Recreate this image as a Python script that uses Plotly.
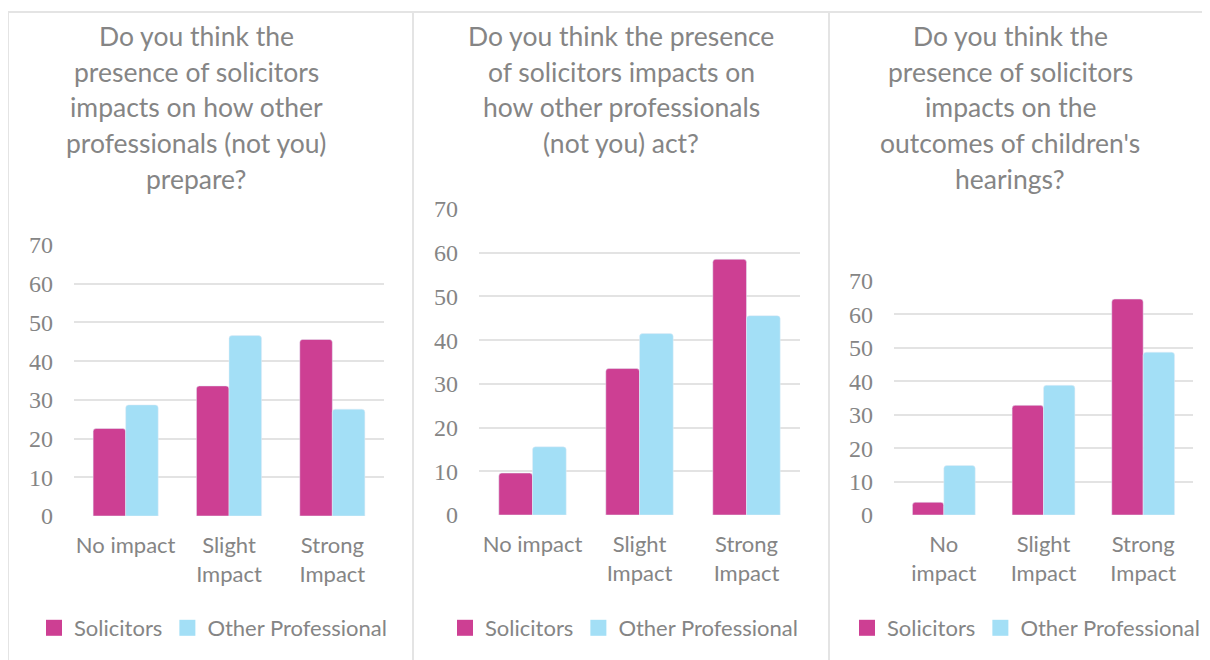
import plotly.graph_objects as go

categories = [['No impact', 'Slight<br>Impact', 'Strong<br>Impact'],
              ['No impact', 'Slight<br>Impact', 'Strong<br>Impact'],
              ['No<br>impact', 'Slight<br>Impact', 'Strong<br>Impact']]

solicitors = [[22.6, 33.6, 45.6],
              [9.6, 33.5, 58.5],
              [3.8, 32.8, 64.6]]

other_prof = [[28.7, 46.6, 27.6],
              [15.6, 41.5, 45.6],
              [14.8, 38.8, 48.7]]

titles = [['Do you think the', 'presence of solicitors', 'impacts on how other',
           'professionals (not you)', 'prepare?'],
          ['Do you think the presence', 'of solicitors impacts on',
           'how other professionals', '(not you) act?'],
          ['Do you think the', 'presence of solicitors', 'impacts on the',
           "outcomes of children's", 'hearings?']]

y_ticks = [0, 10, 20, 30, 40, 50, 60, 70]

W, H = 1210, 660
OFF = 8  # page body margin
PINK = '#cd3f93'
BLUE = '#a3dff6'
GREY = '#858585'
SANS = 'Lato, Open Sans, sans-serif'
SERIF = 'Liberation Serif, DejaVu Serif, serif'


def px_x(p):
    return (p - OFF) / W


def px_y(p):
    return 1 - (p - OFF) / H


# plot area boxes in pixels: x0, x1, y_top, y_bottom
boxes = [(74, 384, 245, 516), (479, 800, 209, 515), (894, 1193, 281, 515)]
title_cx = [196, 621, 1010]
legend_cx = [213, 624, 1026]
title_y = [36, 72, 107, 143, 179]
panel_x = [8, 413, 829]

fig = go.Figure()
for i in range(3):
    n = '' if i == 0 else str(i + 1)
    fig.add_trace(go.Bar(x=categories[i], y=solicitors[i], name='Solicitors',
                         marker=dict(color=PINK, cornerradius=3),
                         xaxis='x' + n, yaxis='y' + n, showlegend=False))
    fig.add_trace(go.Bar(x=categories[i], y=other_prof[i], name='Other Professional',
                         marker=dict(color=BLUE, cornerradius=3),
                         xaxis='x' + n, yaxis='y' + n, showlegend=False))
    # legend entries with larger square swatches
    for nm, col in [('Solicitors', PINK), ('Other Professional', BLUE)]:
        fig.add_trace(go.Scatter(x=[None], y=[None], mode='markers', name=nm,
                                 marker=dict(symbol='square', size=18, color=col),
                                 xaxis='x' + n, yaxis='y' + n,
                                 legend='legend' + n))

    x0, x1, yt, yb = boxes[i]
    fig.layout['xaxis' + n] = dict(domain=[px_x(x0), px_x(x1)], anchor='y' + n,
                                   showgrid=False, showline=False, ticks='',
                                   tickfont=dict(family=SANS, size=22, color=GREY),
                                   ticklabelstandoff=14, fixedrange=True)
    fig.layout['yaxis' + n] = dict(domain=[px_y(yb), px_y(yt)], anchor='x' + n,
                                   range=[0, 70], tickvals=y_ticks,
                                   showgrid=True, gridcolor='#e3e3e3', gridwidth=2,
                                   zeroline=False, showline=False, ticks='',
                                   tickfont=dict(family=SERIF, size=24, color=GREY),
                                   ticklabelstandoff=20)
    fig.layout['legend' + n] = dict(orientation='h', x=px_x(legend_cx[i]),
                                    xanchor='center', y=px_y(628), yanchor='middle',
                                    xref='container', yref='container',
                                    font=dict(family=SANS, size=22, color=GREY),
                                    itemwidth=30, bgcolor='rgba(0,0,0,0)')

    for j, line in enumerate(titles[i]):
        fig.add_annotation(text=line, x=px_x(title_cx[i]), y=px_y(title_y[j]),
                           xref='paper', yref='paper', showarrow=False,
                           xanchor='center', yanchor='middle',
                           font=dict(family=SANS, size=26.5, color=GREY))

    # panel frame lines
    fig.add_shape(type='line', x0=px_x(panel_x[i]), x1=px_x(panel_x[i]),
                  y0=0, y1=px_y(12), xref='paper', yref='paper',
                  line=dict(color='#e4e4e4', width=2))

fig.add_shape(type='line', x0=px_x(panel_x[0]), x1=1, y0=px_y(12), y1=px_y(12),
              xref='paper', yref='paper', line=dict(color='#e4e4e4', width=2))

fig.update_layout(width=W, height=H, margin=dict(l=0, r=0, t=0, b=0, autoexpand=False),
                  barmode='group', bargap=0.37, bargroupgap=0,
                  plot_bgcolor='white', paper_bgcolor='white')

fig.write_html("out.html")
